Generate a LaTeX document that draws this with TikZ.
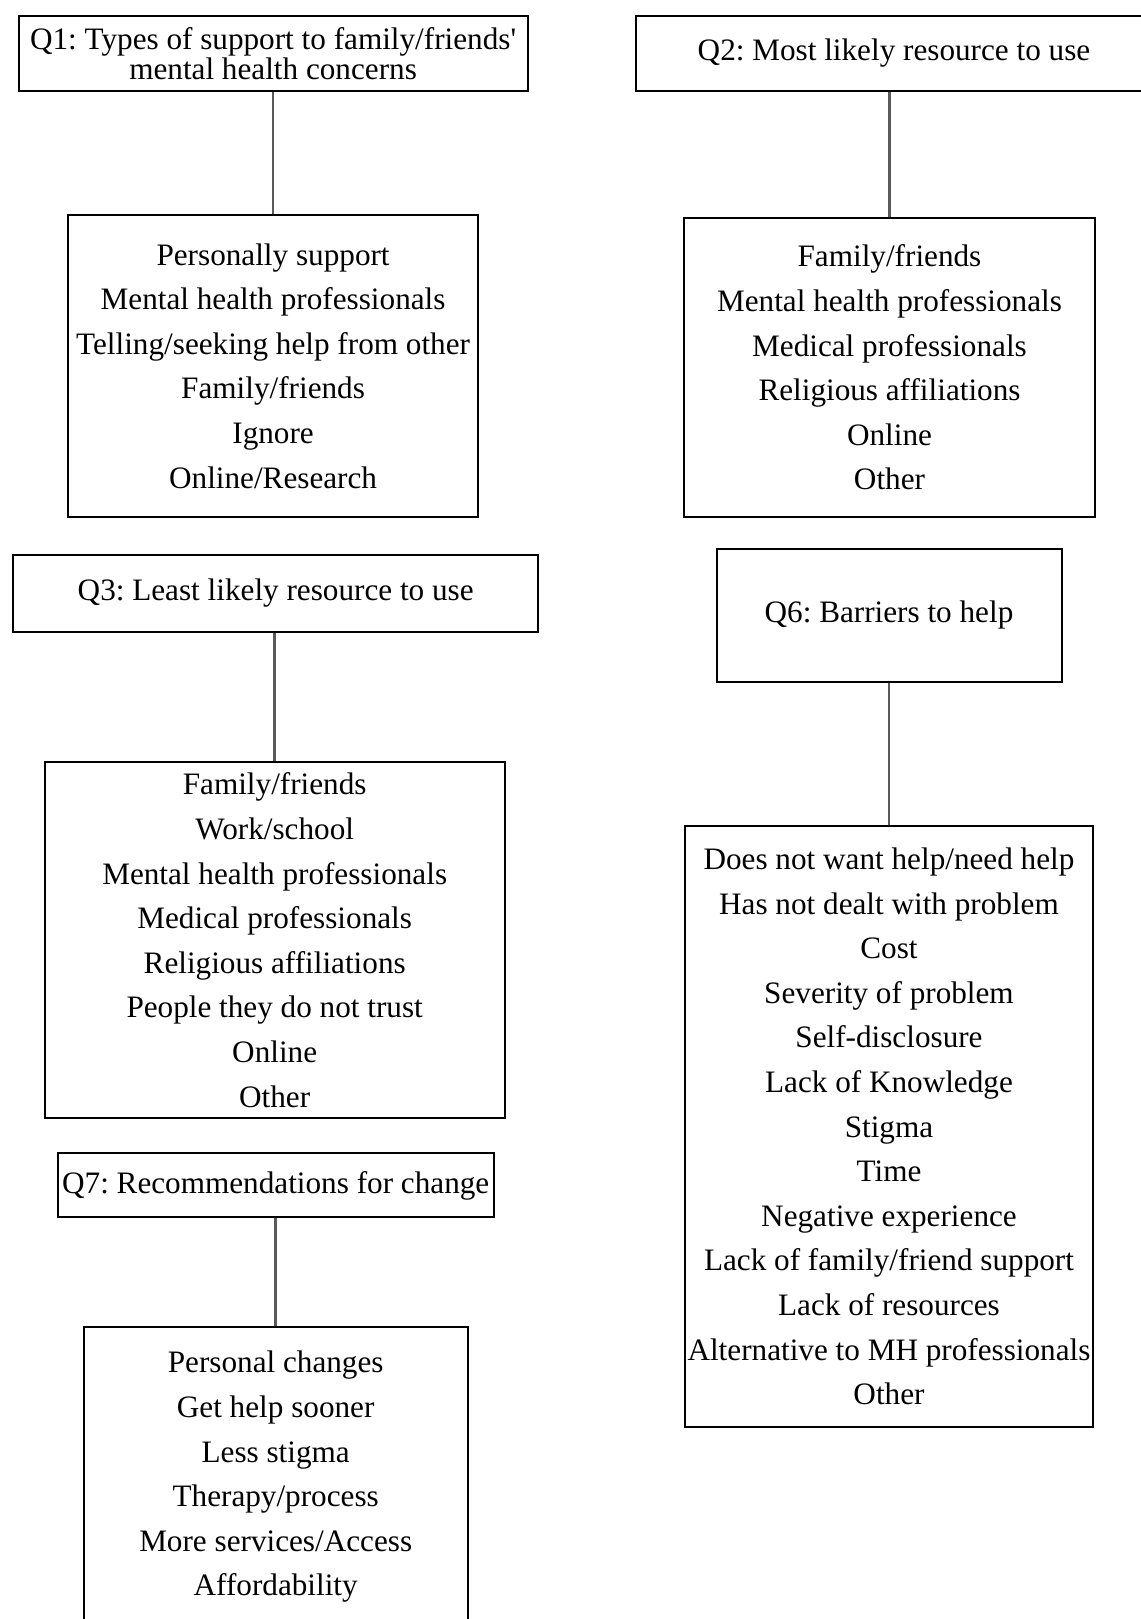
\documentclass[tikz,border=0pt]{standalone}
\usepackage{fontspec}
\setmainfont{Liberation Serif}
\newfontfamily\rawserif{Liberation Serif}[Ligatures=TeXOff]
\definecolor{conngray}{RGB}{90,90,90}
\begin{document}
\frenchspacing
\begin{tikzpicture}[x=0.5pt,y=-0.5pt,
  box/.style={draw=black, line width=1pt, inner sep=0pt, align=center,
    font=\frenchspacing\fontsize{15.6}{22.3}\selectfont},
  hdr/.style={box, font=\frenchspacing\fontsize{15.6}{15}\selectfont},
  conn/.style={draw=conngray, line width=1.3pt}]
\useasboundingbox (0,0) rectangle (1141,1619);
\fill[white] (0,0) rectangle (1141,1619);

% Q1
\node[hdr, minimum width=254.6pt, minimum height=37.7pt] (q1) at (273.1,53.2)
  {Q1: Types of support to family/friends{\rawserif '}\\mental health concerns};
\node[box, minimum width=205pt, minimum height=151.3pt] (q1a) at (273.1,366)
  {Personally support\\Mental health professionals\\Telling/seeking help from other\\Family/friends\\Ignore\\Online/Research};
\draw[conn] (q1a.north) -- (q1a.north |- q1.south);

% Q2
\node[hdr, minimum width=258pt, minimum height=37.7pt] (q2) at (894,53.2)
  {Q2: Most likely resource to use};
\node[box, minimum width=205.5pt, minimum height=149.7pt] (q2a) at (889.5,367.6)
  {Family/friends\\Mental health professionals\\Medical professionals\\Religious affiliations\\Online\\Other};
\draw[conn] (q2a.north) -- (q2a.north |- q2.south);

% Q6
\node[box, minimum width=172.5pt, minimum height=66.1pt] (q6) at (889,615.4)
  {Q6: Barriers to help};
\node[box, minimum width=204pt, minimum height=300.5pt] (q6a) at (889,1126.5)
  {Does not want help/need help\\Has not dealt with problem\\Cost\\Severity of problem\\Self-disclosure\\Lack of Knowledge\\Stigma\\Time\\Negative experience\\Lack of family/friend support\\Lack of resources\\Alternative to MH professionals\\Other};
\draw[conn] (q6a.north) -- (q6a.north |- q6.south);

% Q3
\node[box, minimum width=262.3pt, minimum height=38.8pt] (q3) at (275.7,593.3)
  {Q3: Least likely resource to use};
\node[box, minimum width=229.8pt, minimum height=178.2pt] (q3a) at (274.7,940.2)
  {Family/friends\\Work/school\\Mental health professionals\\Medical professionals\\Religious affiliations\\People they do not trust\\Online\\Other};
\draw[conn] (q3a.north) -- (q3a.north |- q3.south);

% Q7
\node[box, minimum width=217.9pt, minimum height=32pt] (q7) at (275.7,1185.4)
  {Q7: Recommendations for change};
\node[box, minimum width=192.1pt, minimum height=150pt] (q7a) at (275.7,1477)
  {Personal changes\\Get help sooner\\Less stigma\\Therapy/process\\More services/Access\\Affordability};
\draw[conn] (q7a.north) -- (q7a.north |- q7.south);
\end{tikzpicture}
\end{document}
